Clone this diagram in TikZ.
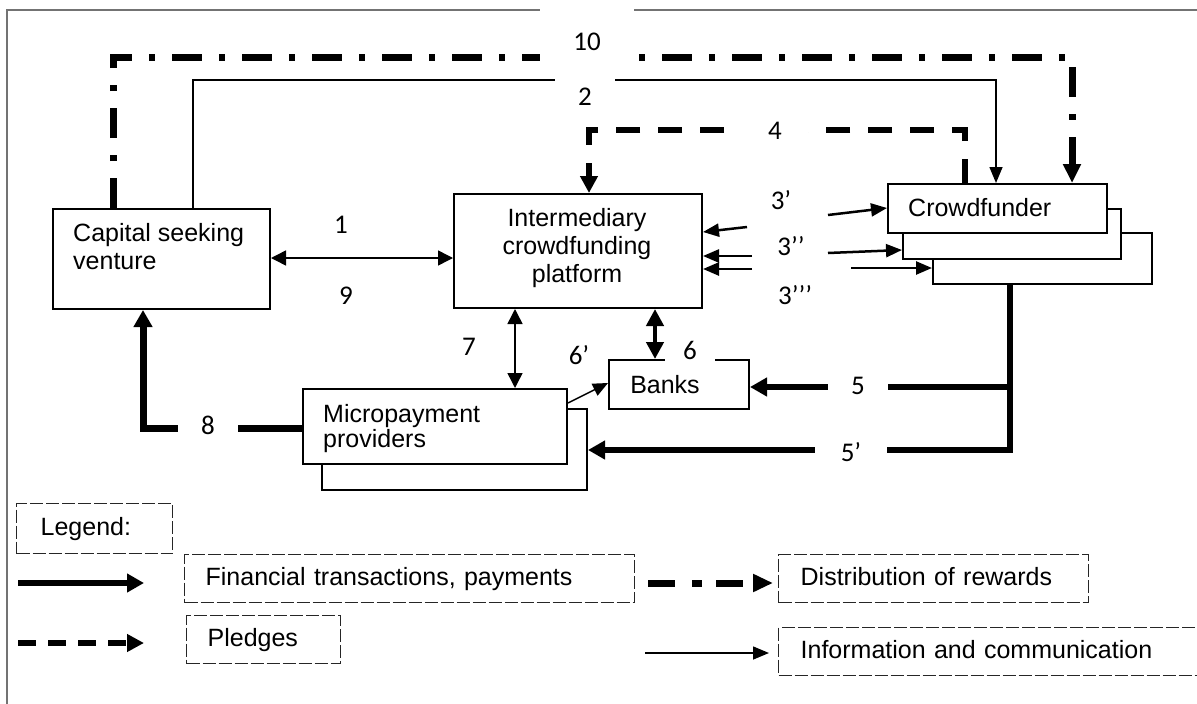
\documentclass[tikz,border=0pt]{standalone}
\usepackage{fontspec}
\setmainfont{Liberation Sans}
\newfontfamily\numfont{Carlito}
\usetikzlibrary{arrows.meta}
\begin{document}
\begin{tikzpicture}[x=1pt,y=-1pt,
  box/.style={draw=black, line width=2pt, fill=white, inner sep=0pt, anchor=north west},
  txt/.style={font=\fontsize{25}{28}\selectfont, inner sep=0pt, align=left},
  lab/.style={font=\numfont\fontsize{27}{30}\selectfont, inner sep=0pt},
  gaplab/.style={lab, fill=white, minimum height=30pt},
  info/.style={line width=1.5pt, -{Triangle[length=16pt,width=13pt]}},
  infotwo/.style={line width=1.5pt, {Triangle[length=15pt,width=15pt]}-{Triangle[length=15pt,width=15pt]}},
  thicktwo/.style={line width=4.5pt, {Triangle[length=17pt,width=17pt]}-{Triangle[length=17pt,width=17pt]}},
  fin/.style={line width=6pt, -{Triangle[length=17pt,width=18pt]}},
  pledge/.style={line width=6pt, dash pattern=on 24pt off 18pt, -{Triangle[length=17pt,width=17pt]}},
  legpledge/.style={line width=6pt, dash pattern=on 18pt off 12pt, -{Triangle[length=17pt,width=17pt]}},
  reward/.style={line width=7pt, dash pattern=on 30pt off 17pt on 6pt off 17pt, -{Triangle[length=19pt,width=17pt]}},
  legreward/.style={line width=7pt, dash pattern=on 27pt off 17pt on 10pt off 14pt, -{Triangle[length=20pt,width=17pt]}},
  three/.style={line width=2.5pt, -{Triangle[length=16pt,width=13pt]}},
  thin/.style={line width=1.5pt, -{Triangle[length=15pt,width=13pt]}},
  legbox/.style={draw=black!85, line width=1.3pt, dash pattern=on 13pt off 3pt, inner ysep=0pt, anchor=north west, align=left, font=\fontsize{25}{28}\selectfont, text height=18pt, text depth=5pt},
  frame/.style={draw=black!55, line width=2pt}
]
\useasboundingbox (0,0) rectangle (1197,704);

% outer frame
\coordinate (fr0) at (7,704);
\coordinate (fr1) at (7,10);
\coordinate (fr2) at (1197,10);
\draw[frame] (fr0) -- (fr1) -- (fr2);

% boxes
\node[box, minimum width=217pt, minimum height=100pt] (csv) at (52,208) {};
\node[txt, anchor=north west] (csvt) at (73,223) {Capital seeking\\venture};
\node[box, minimum width=248pt, minimum height=114pt] (plat) at (453,193) {};
\node[txt, align=center, anchor=north] (platt) at (577,208) {Intermediary\\crowdfunding\\platform};
\node[box, minimum width=219pt, minimum height=51pt] (cf3) at (932,232) {};
\node[box, minimum width=218pt, minimum height=50pt] (cf2) at (902,208) {};
\node[box, minimum width=219pt, minimum height=49pt] (cf1) at (887,183) {};
\node[txt, anchor=north west] (cf1t) at (908,198) {Crowdfunder};
\node[box, minimum width=265pt, minimum height=81pt] (mp2) at (321,408) {};
\node[box, minimum width=264pt, minimum height=75pt] (mp1) at (302,388) {};
\node[txt, anchor=north west, font=\fontsize{25}{25}\selectfont] (mp1t) at (323,404) {Micropayment\\providers};
\node[box, minimum width=140pt, minimum height=49pt] (banks) at (608,359) {};
\node[txt, anchor=north] (bankst) at (665,375) {Banks};

% 10: distribution of rewards
\coordinate (c10a) at (113,57);
\coordinate (c10b) at (1072,57);
\draw[reward] (c10a |- csv.north) -- (c10a) -- (c10b) -- (c10b |- cf1.north);

% 2: information
\coordinate (c2a) at (193,80);
\coordinate (c2b) at (996,80);
\draw[info] (c2a |- csv.north) -- (c2a) -- (c2b) -- (c2b |- cf1.north);

% 4: pledges
\coordinate (c4a) at (965,130);
\coordinate (c4b) at (589,130);
\draw[pledge] (c4a |- cf1.north) -- (c4a) -- (c4b) -- (c4b |- plat.north);

% 1 / 9
\coordinate (c1) at (0,258);
\draw[infotwo] (c1 -| csv.east) -- (c1 -| plat.west);

% 7
\coordinate (c7) at (515,0);
\draw[infotwo] (c7 |- plat.south) -- (c7 |- mp1.north);

% 6
\coordinate (c6) at (655,0);
\draw[thicktwo] (c6 |- plat.south) -- (c6 |- banks.north);

% 6'
\coordinate (c6s) at (0,403);
\coordinate (c6e) at (0,383);
\draw[thin] (c6s -| mp1.east) -- (c6e -| banks.west);

% 3', 3'', 3'''
\coordinate (s3a) at (828,215);
\coordinate (s3b) at (747,227);
\coordinate (s3c) at (828,253);
\coordinate (s3d) at (752,256);
\coordinate (s3e) at (752,269);
\coordinate (s3f) at (851,268);
\draw[three] (s3a) -- (cf1.west |- 0,208);
\draw[three] (s3b) -- (plat.east |- 0,232);
\draw[three] (s3c) -- (cf2.west |- 0,250);
\draw[three] (s3d) -- (plat.east |- s3d);
\draw[three] (s3e) -- (plat.east |- s3e);
\draw[three] (s3f) -- (cf3.west |- s3f);

% 5 and 5'
\coordinate (j5a) at (1010,387);
\coordinate (j5b) at (1010,450);
\draw[fin, line width=5.5pt] (j5a |- cf3.south) -- (j5b) -- (j5b -| mp2.east);
\draw[fin, line width=5.5pt] (j5a) -- (j5a -| banks.east);

% 8
\coordinate (c8) at (143,428);
\draw[fin, line width=7pt] (c8 -| mp1.west) -- (c8) -- (c8 |- csv.south);

% labels with gaps
\node[gaplab, minimum width=94pt, minimum height=70pt] (l10) at (587,42) {10};
\node[gaplab, minimum width=60pt, minimum height=40pt] (l2) at (585,97) {2};
\node[gaplab, minimum width=66pt] (l4) at (775,131) {4};
\node[gaplab, minimum width=60pt] (l8) at (208,425) {8};
\node[gaplab, minimum width=60pt] (l5) at (858,386) {5};
\node[gaplab, minimum width=72pt] (l5p) at (851,452) {5’};
\node[gaplab, minimum width=50pt, minimum height=26pt] (l6) at (690,350) {6};

% other labels
\node[lab] (l1) at (341,225) {1};
\node[lab] (l9) at (346,296) {9};
\node[lab] (l7) at (469,347) {7};
\node[lab] (l6p) at (579,355) {6’};
\node[lab] (l3a) at (781,200) {3’};
\node[lab] (l3b) at (791,246) {3’’};
\node[lab] (l3c) at (795,295) {3’’’};

% legend
\node[legbox, minimum width=156pt, minimum height=50pt, inner xsep=24pt, text width=108pt] (lg) at (16,503) {Legend:};
\node[legbox, minimum width=450pt, minimum height=48pt, inner xsep=21pt, text width=408pt] (lgf) at (184,554) {Financial transactions, payments};
\node[legbox, minimum width=154pt, minimum height=48pt, inner xsep=21pt, text width=112pt] (lgp) at (186,615) {Pledges};
\node[legbox, minimum width=310pt, minimum height=48pt, inner xsep=22pt, text width=266pt] (lgd) at (778,554) {Distribution of rewards};
\node[legbox, minimum width=440pt, minimum height=48pt, inner xsep=22pt, text width=396pt] (lgi) at (778,627) {Information and communication};

\coordinate (af1) at (18,583);
\coordinate (af2) at (144,583);
\draw[fin] (af1) -- (af2);
\coordinate (ap1) at (18,643);
\coordinate (ap2) at (144,643);
\draw[legpledge] (ap1) -- (ap2);
\coordinate (ad1) at (648,583);
\coordinate (ad2) at (773,583);
\draw[legreward] (ad1) -- (ad2);
\coordinate (ai1) at (645,653);
\coordinate (ai2) at (769,653);
\draw[info] (ai1) -- (ai2);
\end{tikzpicture}
\end{document}
